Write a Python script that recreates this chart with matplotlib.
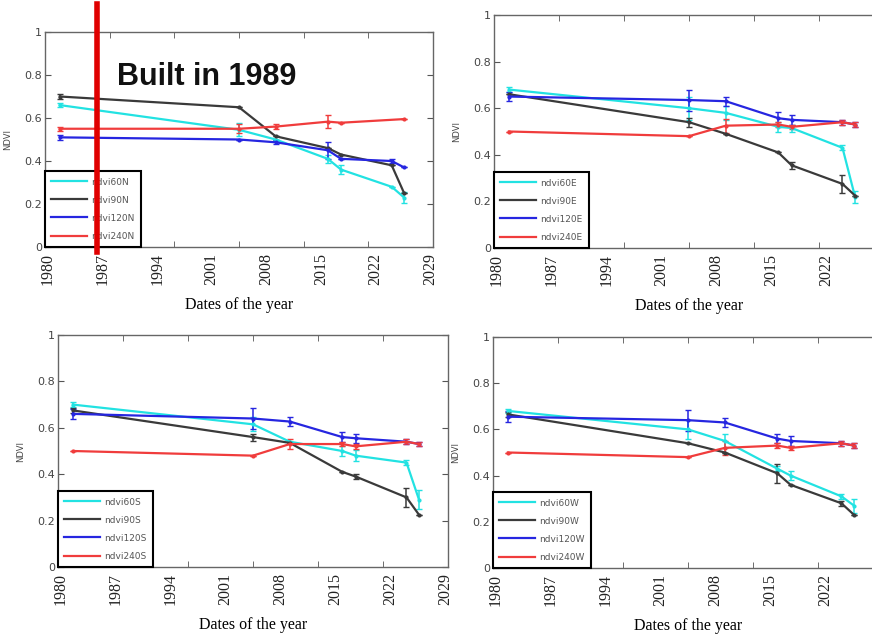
import numpy as np
import matplotlib
matplotlib.use('Agg')
import matplotlib.pyplot as plt
from matplotlib.lines import Line2D
from matplotlib.transforms import blended_transform_factory

nan = np.nan

# sampling dates (same for all four directions)
years = [1981.5, 2004.5, 2009.2, 2015.9, 2017.6, 2024.1, 2025.7]
tick_years = [1980, 1987, 1994, 2001, 2008, 2015, 2022, 2029]

# North
ndvi60N = [0.66, 0.545, 0.50, 0.41, 0.36, 0.28, 0.23]
ndvi60N_err = [0.01, 0.03, 0.0, 0.02, 0.02, 0.0, 0.025]
ndvi90N = [0.70, 0.65, 0.515, 0.46, 0.43, 0.38, 0.25]
ndvi90N_err = [0.01, 0.0, 0.0, 0.0, 0.0, 0.0, 0.0]
ndvi120N = [0.51, 0.50, 0.487, 0.45, 0.41, 0.40, 0.37]
ndvi120N_err = [0.01, 0.0, 0.01, 0.04, 0.0, 0.01, 0.0]
ndvi240N = [0.55, 0.55, 0.56, 0.583, 0.578, nan, 0.595]
ndvi240N_err = [0.01, 0.02, 0.01, 0.03, 0.0, 0.0, 0.0]

# East
ndvi60E = [0.68, 0.60, 0.58, 0.52, 0.515, 0.43, 0.22]
ndvi60E_err = [0.01, 0.05, 0.03, 0.02, 0.015, 0.01, 0.025]
ndvi90E = [0.66, 0.54, 0.49, 0.41, 0.355, 0.275, 0.225]
ndvi90E_err = [0.0, 0.02, 0.0, 0.0, 0.015, 0.04, 0.0]
ndvi120E = [0.65, 0.635, 0.63, 0.557, 0.55, 0.54, 0.53]
ndvi120E_err = [0.02, 0.045, 0.02, 0.025, 0.02, 0.01, 0.01]
ndvi240E = [0.50, 0.48, 0.525, 0.53, 0.52, 0.54, 0.53]
ndvi240E_err = [0.0, 0.0, 0.03, 0.01, 0.01, 0.01, 0.01]

# South
ndvi60S = [0.70, 0.615, 0.54, 0.50, 0.48, 0.45, 0.29]
ndvi60S_err = [0.01, 0.03, 0.0, 0.02, 0.025, 0.01, 0.04]
ndvi90S = [0.675, 0.56, 0.535, 0.41, 0.39, 0.30, 0.225]
ndvi90S_err = [0.01, 0.015, 0.0, 0.0, 0.01, 0.04, 0.0]
ndvi120S = [0.66, 0.64, 0.627, 0.56, 0.555, 0.54, 0.53]
ndvi120S_err = [0.02, 0.045, 0.02, 0.02, 0.02, 0.01, 0.01]
ndvi240S = [0.50, 0.48, 0.53, 0.53, 0.52, 0.54, 0.53]
ndvi240S_err = [0.0, 0.0, 0.02, 0.01, 0.01, 0.01, 0.01]

# West
ndvi60W = [0.68, 0.60, 0.55, 0.43, 0.40, 0.31, 0.27]
ndvi60W_err = [0.01, 0.04, 0.03, 0.01, 0.02, 0.01, 0.03]
ndvi90W = [0.665, 0.54, 0.50, 0.41, 0.36, 0.28, 0.23]
ndvi90W_err = [0.01, 0.0, 0.0, 0.04, 0.0, 0.01, 0.0]
ndvi120W = [0.655, 0.64, 0.63, 0.56, 0.55, 0.54, 0.53]
ndvi120W_err = [0.025, 0.045, 0.02, 0.02, 0.02, 0.01, 0.01]
ndvi240W = [0.50, 0.48, 0.52, 0.53, 0.52, 0.54, 0.53]
ndvi240W_err = [0.0, 0.0, 0.03, 0.01, 0.01, 0.01, 0.01]

colors = ['#22E2E2', '#3a3a3a', '#2626E0', '#F03C3C']

W, H = 872, 634
fig = plt.figure(figsize=(W / 100, H / 100), dpi=100)


def px_axes(left, top, width, height):
    return fig.add_axes([left / W, 1 - (top + height) / H, width / W, height / H])


def panel(ax, series, suffix, h, show_last=True):
    x = np.array(years)
    handles = []
    for (vals, errs), c, name in zip(series, colors, ['60', '90', '120', '240']):
        v = np.array(vals)
        e = np.array(errs)
        ok = ~np.isnan(v)
        ax.errorbar(x[ok], v[ok], yerr=e[ok], color=c, lw=1.6, elinewidth=1.1,
                    capsize=2.5, marker='.', ms=4)
        handles.append(Line2D([], [], color=c, lw=1.6, label='ndvi' + name + suffix))
    ax.set_xlim(1979.6, 2029.4)
    ax.set_ylim(0, 1)
    ax.set_yticks([0, 0.2, 0.4, 0.6, 0.8, 1])
    ax.set_yticklabels(['0', '0.2', '0.4', '0.6', '0.8', '1'], fontsize=8, color='#444444')
    shown = tick_years if show_last else tick_years[:-1]
    ax.set_xticks(shown)
    ax.set_xticklabels([str(t) for t in shown], rotation=90, fontsize=11.5,
                       family='Liberation Serif', color='#222222')
    x0, x1 = ax.get_xlim()
    ax.set_xticks([x0 + k * (x1 - x0) / 6 for k in range(1, 6)], minor=True)
    ax.tick_params(axis='x', which='major', length=0, pad=4)
    ax.tick_params(axis='x', which='minor', length=4, direction='in', top=True,
                   color='#555555')
    ax.tick_params(axis='y', length=4, direction='in', right=True, color='#555555', pad=2)
    for s in ax.spines.values():
        s.set_color('#666666')
        s.set_linewidth(1.0)
    ax.set_ylabel('NDVI', fontsize=6, color='#444444')
    ax.yaxis.set_label_coords(-33 / 388, 0.5)
    ax.set_xlabel('Dates of the year', fontsize=11.5, family='Liberation Serif')
    ax.xaxis.set_label_coords(0.5, -50 / h)
    leg = ax.legend(handles=handles, loc='lower left', borderaxespad=0, fontsize=6.5,
                    handlelength=4.0, labelspacing=1.0, fancybox=False, framealpha=1,
                    borderpad=0.7, handletextpad=0.4)
    leg.get_frame().set_edgecolor('black')
    leg.get_frame().set_linewidth(1.5)
    for t in leg.get_texts():
        t.set_color('#555555')
    return ax


ax1 = px_axes(45, 32, 388, 215)
panel(ax1, [(ndvi60N, ndvi60N_err), (ndvi90N, ndvi90N_err),
            (ndvi120N, ndvi120N_err), (ndvi240N, ndvi240N_err)], 'N', 215)

ax2 = px_axes(494, 15, 390, 233)
panel(ax2, [(ndvi60E, ndvi60E_err), (ndvi90E, ndvi90E_err),
            (ndvi120E, ndvi120E_err), (ndvi240E, ndvi240E_err)], 'E', 233,
      show_last=False)

ax3 = px_axes(58, 335, 390, 232)
panel(ax3, [(ndvi60S, ndvi60S_err), (ndvi90S, ndvi90S_err),
            (ndvi120S, ndvi120S_err), (ndvi240S, ndvi240S_err)], 'S', 232)

ax4 = px_axes(493, 337, 390, 231)
panel(ax4, [(ndvi60W, ndvi60W_err), (ndvi90W, ndvi90W_err),
            (ndvi120W, ndvi120W_err), (ndvi240W, ndvi240W_err)], 'W', 231,
      show_last=False)

# construction marker
built_line_year = 1986.3
tr = blended_transform_factory(ax1.transData, ax1.transAxes)
ax1.plot([built_line_year, built_line_year], [-0.025, 1.13], transform=tr,
         color='#E00000', lw=4, clip_on=False, zorder=10)
fig.text(117 / W, 1 - 85 / H, 'Built in 1989', fontsize=22, fontweight='bold',
         family='Liberation Sans', va='baseline', ha='left', color='#111111')

fig.savefig('out.png', dpi=100)
